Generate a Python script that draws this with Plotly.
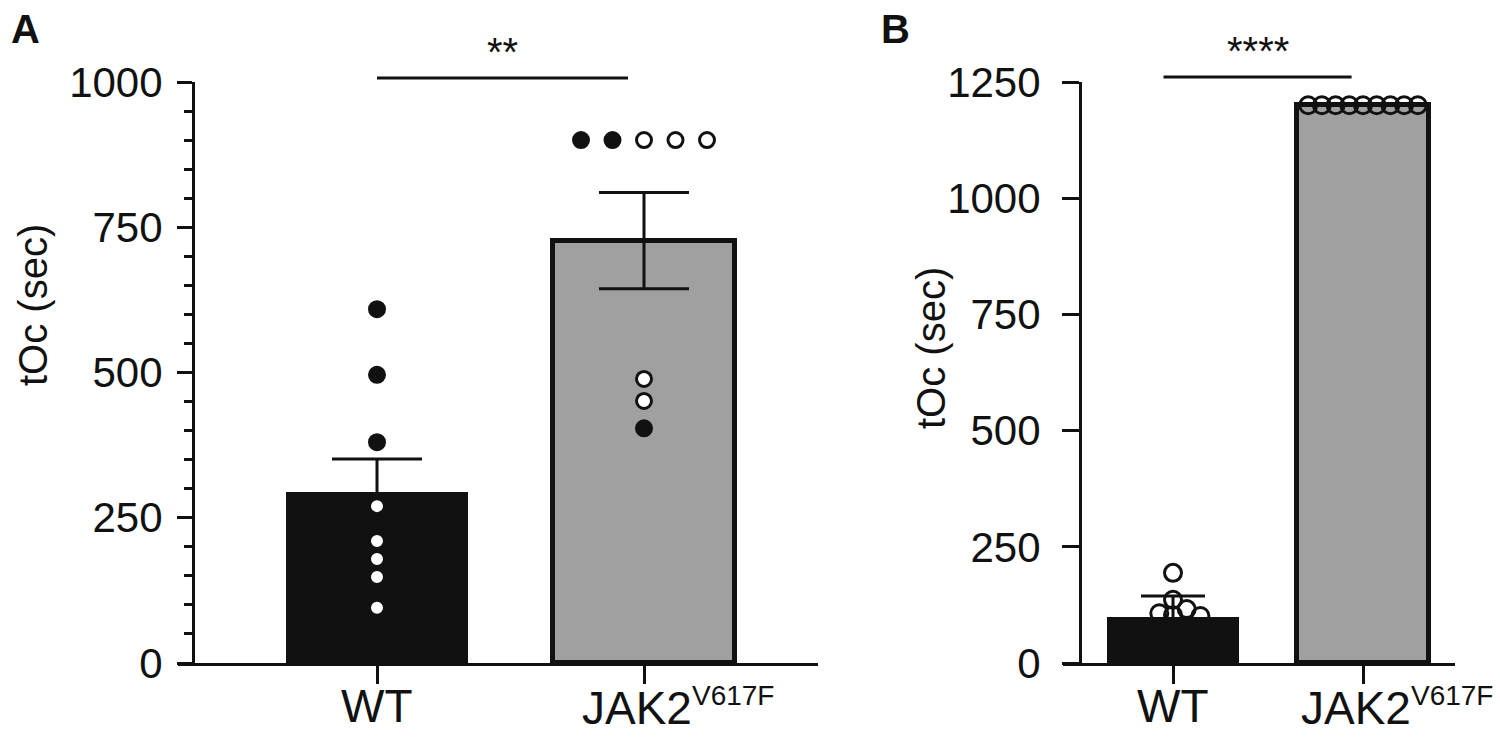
import plotly.graph_objects as go

# ---------------- data ----------------
categories = ["WT", "JAK2<sup><span style='font-size:28px'>V617F</span></sup>"]

# Panel A
a_means = [294, 727]
a_errors = [57, 83]
a_wt_filled = [609, 496, 380]
a_wt_open = [270, 210, 179, 148, 95]
a_jak_filled = [900, 900, 404]
a_jak_open = [900, 900, 900, 489, 451]
a_yticks = [0, 250, 500, 750, 1000]
a_sig = "**"

# Panel B
b_means = [99, 1200]
b_errors = [45, 0]
b_wt_open = [194, 136, 116, 107, 103, 101]
b_jak_open = [1200, 1200, 1200, 1200, 1200, 1200, 1200, 1200, 1200]
b_yticks = [0, 250, 500, 750, 1000, 1250]
b_sig = "****"

y_title = "tOc (sec)"

# ---------------- layout geometry (screen pixels of the 1500x742 view) ----------------
W, H = 1500, 742


def px_x(rx):
    return rx / W


def px_y(ry):
    return 1 - ry / H


FONT = "Liberation Sans, Arial, Helvetica, sans-serif"
Y_BOT, Y_TOP = 663, 82
PANELS = {
    "A": dict(xdom=(178, 818), yaxis_px=193, cats=(377, 644), ymax=1000,
              bar_w=0.68, step_px=31.5, min_px=17, msize=15, cap=45, standoff=6,
              ticklen=15,
              sig_x=(0.0, 0.94), sig_y=1007, letter=(25, 29), ytitle=(33, 305)),
    "B": dict(xdom=(1063, 1455), yaxis_px=1080, cats=(1173, 1363), ymax=1250,
              bar_w=0.69, step_px=13.7, min_px=13.5, msize=17, cap=32, standoff=13,
              ticklen=17,
              sig_x=(-0.05, 0.94), sig_y=1261, letter=(895, 29), ytitle=(931, 348)),
}
WT_COLOR = "#111111"
JAK_COLOR = "#a0a0a0"
LINE = "#111111"


def swarm(values, step_px, min_px, px_per_x, px_per_y):
    n = len(values)
    order = sorted(range(n), key=lambda i: -values[i])
    placed = []
    offs = [0.0] * n
    ks = [0] + [s * k for k in range(1, 60) for s in (1, -1)]
    for i in order:
        yv = values[i] * px_per_y
        xp = 0.0
        for k in ks:
            xp = k * step_px
            if all((xp - px) ** 2 + (yv - py) ** 2 >= min_px ** 2 - 1e-6 for px, py in placed):
                break
        placed.append((xp, yv))
        offs[i] = xp / px_per_x
    # equal values: keep list order from left to right
    seen = {}
    for i, v in enumerate(values):
        seen.setdefault(v, []).append(i)
    for v, idxs in seen.items():
        if len(idxs) > 1:
            s = sorted(offs[i] for i in idxs)
            for i, o in zip(idxs, s):
                offs[i] = o
    return offs


fig = go.Figure()
shapes = []
annotations = []

panel_data = {
    "A": dict(means=a_means, errors=a_errors,
              groups=[(a_wt_filled, a_wt_open), (a_jak_filled, a_jak_open)],
              yticks=a_yticks, sig=a_sig, minor=50),
    "B": dict(means=b_means, errors=b_errors,
              groups=[([], b_wt_open), ([], b_jak_open)],
              yticks=b_yticks, sig=b_sig, minor=None),
}

layout_axes = {}
for n, key in enumerate(["A", "B"]):
    g = PANELS[key]
    d = panel_data[key]
    xs = "" if n == 0 else str(n + 1)
    xa, ya = "x" + xs, "y" + xs
    c0, c1 = g["cats"]
    span = c1 - c0
    xr = [(g["xdom"][0] - c0) / span, (g["xdom"][1] - c0) / span]
    px_per_x = span
    px_per_y = (Y_BOT - Y_TOP) / g["ymax"]

    # bars
    fig.add_trace(go.Bar(
        x=[0, 1], y=d["means"], width=g["bar_w"], xaxis=xa, yaxis=ya,
        marker=dict(color=[WT_COLOR, JAK_COLOR],
                    line=dict(color=LINE, width=[0, 5])),
        error_y=dict(type="data", array=d["errors"], color=LINE,
                     thickness=3, width=g["cap"]),
        showlegend=False, hoverinfo="skip"))

    # points
    for ci, (filled, opened) in enumerate(d["groups"]):
        vals = list(filled) + list(opened)
        offs = swarm(vals, g["step_px"], g["min_px"], px_per_x, px_per_y)
        nf = len(filled)
        if key == "A":
            if nf:
                fig.add_trace(go.Scatter(
                    x=[ci + o for o in offs[:nf]], y=filled, mode="markers",
                    xaxis=xa, yaxis=ya, cliponaxis=False, showlegend=False,
                    marker=dict(symbol="circle", size=g["msize"], color=LINE,
                                line=dict(color=LINE, width=3))))
            fig.add_trace(go.Scatter(
                x=[ci + o for o in offs[nf:]], y=opened, mode="markers",
                xaxis=xa, yaxis=ya, cliponaxis=False, showlegend=False,
                marker=dict(symbol="circle", size=g["msize"], color="white",
                            line=dict(color=LINE, width=3))))
        else:
            fig.add_trace(go.Scatter(
                x=[ci + o for o in offs[nf:]], y=opened, mode="markers",
                xaxis=xa, yaxis=ya, cliponaxis=False, showlegend=False,
                marker=dict(symbol="circle-open", size=g["msize"], color=LINE,
                            line=dict(color=LINE, width=3))))

    # axes
    xaxis = dict(domain=[px_x(g["xdom"][0]), px_x(g["xdom"][1])], range=xr, anchor=ya,
                 showline=True, linewidth=3, linecolor=LINE,
                 ticks="outside", ticklen=18, tickwidth=3, tickcolor=LINE,
                 tickvals=[0, 1], showticklabels=False, automargin=False,
                 showgrid=False, zeroline=False, fixedrange=True)
    yaxis = dict(domain=[px_y(Y_BOT), px_y(Y_TOP)], range=[0, g["ymax"]],
                 anchor="free", position=px_x(g["yaxis_px"]),
                 showline=True, linewidth=3, linecolor=LINE,
                 ticks="outside", ticklen=g["ticklen"], tickwidth=3,
                 tickcolor=LINE, tickvals=d["yticks"],
                 tickfont=dict(family=FONT, size=42, color=LINE),
                 ticklabelstandoff=g["standoff"], automargin=False,
                 showgrid=False, zeroline=False, fixedrange=True)
    if d["minor"]:
        yaxis["minor"] = dict(dtick=d["minor"], tick0=0, ticks="outside", ticklen=8,
                              tickwidth=3, tickcolor=LINE, showgrid=False)
    layout_axes["xaxis" + xs] = xaxis
    layout_axes["yaxis" + xs] = yaxis

    # x category labels
    annotations.append(dict(x=0, y=0, xref=xa, yref=ya + " domain", text=categories[0],
                            xanchor="center", yanchor="top", yshift=-15, showarrow=False,
                            font=dict(family=FONT, size=46, color=LINE)))
    annotations.append(dict(x=1, y=0, xref=xa, yref=ya + " domain", text=categories[1],
                            xanchor="left", xshift=-64, yanchor="top", yshift=-15,
                            showarrow=False,
                            font=dict(family=FONT, size=46, color=LINE)))

    # significance bar
    sy = g["sig_y"] / g["ymax"]
    shapes.append(dict(type="line", xref=xa, yref=ya + " domain",
                       x0=g["sig_x"][0], x1=g["sig_x"][1], y0=sy, y1=sy,
                       line=dict(color=LINE, width=3)))
    annotations.append(dict(x=(g["sig_x"][0] + g["sig_x"][1]) / 2, y=sy, xref=xa,
                            yref=ya + " domain", text=d["sig"], showarrow=False,
                            xanchor="center", yanchor="bottom", yshift=2,
                            font=dict(family=FONT, size=40, color=LINE)))

    # panel letter
    lx, ly = g["letter"]
    annotations.append(dict(x=px_x(lx), y=px_y(ly), xref="paper", yref="paper",
                            text="<b>%s</b>" % key, showarrow=False,
                            xanchor="center", yanchor="middle",
                            font=dict(family=FONT, size=40, color=LINE)))
    # y title
    tx, ty = g["ytitle"]
    annotations.append(dict(x=px_x(tx), y=px_y(ty), xref="paper", yref="paper",
                            text=y_title, textangle=-90, showarrow=False,
                            xanchor="center", yanchor="middle",
                            font=dict(family=FONT, size=40, color=LINE)))

fig.update_layout(
    template="none",
    width=W, height=H, margin=dict(l=0, r=0, t=0, b=0, pad=0),
    paper_bgcolor="white", plot_bgcolor="white",
    bargap=0, showlegend=False,
    shapes=shapes, annotations=annotations,
    font=dict(family=FONT, color=LINE),
    **layout_axes,
)

fig.write_html("out.html", config={"displayModeBar": False},
               post_script="document.body.style.margin='0';"
                           "document.body.style.overflow='hidden';")
